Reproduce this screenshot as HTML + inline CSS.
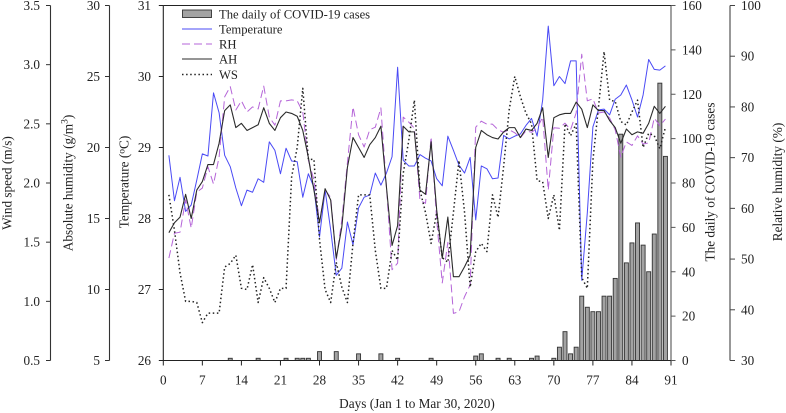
<!DOCTYPE html>
<html>
<head>
<meta charset="utf-8">
<style>
html,body{margin:0;padding:0;background:#fff;}
svg{display:block;}
text{font-family:"Liberation Serif",serif;fill:#222;}
</style>
</head>
<body>
<svg id="chart" xmlns="http://www.w3.org/2000/svg" width="786" height="413" viewBox="0 0 786 413"></svg>
<script>
const temperature = [28.89,28.25,28.58,28.1,28.19,28.54,28.91,28.88,29.77,29.49,28.89,28.73,28.43,28.18,28.4,28.37,28.56,28.51,29.08,28.96,28.63,28.99,28.81,28.8,28.3,28.63,28.44,27.74,28.4,27.84,27.2,27.3,27.95,27.63,28.15,28.3,28.33,28.64,28.47,28.64,28.87,30.13,28.82,28.74,28.74,28.9,28.85,28.81,28.56,28.46,29.16,28.96,28.75,28.64,28.86,27.98,28.74,28.7,28.56,28.57,29.17,29.12,29.16,29.19,29.31,29.41,29.16,29.67,30.71,29.87,30.0,29.9,30.22,30.22,27.13,28.08,29.29,29.53,29.54,29.46,29.68,29.74,29.88,29.67,29.43,29.74,30.24,30.1,30.09,30.15];
const relativeHumidity = [50.2,55.1,55.3,61.7,56.1,63.2,64,68.2,64.8,70.1,82,84,79.4,81.2,79,80,79.6,84.1,78,76.4,81.2,81.2,81.4,81.2,79,69.5,65.6,57.3,63.6,62.2,49.8,57.7,69,80,74.5,72.1,75.5,76,79.8,64.2,47.9,49.2,78,77,75.8,61.6,61,74.1,57.7,45.3,53.3,39.3,39.6,42.6,44.9,76,77.2,76.6,76.6,75.5,75,75.5,74.9,73.9,75.3,75,75.8,78,63.6,75.9,75.8,76.8,75.5,78.8,90.4,81.2,81.6,78.8,79,77.8,75.5,70.1,73.1,72.4,74.3,72.7,72.9,77.8,76.3,77.6];
const absoluteHumidity = [14,14.7,15.1,16.7,15,17,17.6,18.8,18.8,20.3,22.6,23,21.4,21.7,21.2,21.4,21.6,22.8,21.7,21.2,22.1,22.5,22.4,22.2,21.2,19.3,17,14.7,17.1,16.3,12.2,14.4,18.6,20.7,20,19.3,20.2,20.7,21.5,17.2,13.1,14.5,21.5,21.1,21.1,17,16.7,20.4,15.6,12.2,15.1,10.9,10.9,11.6,12.4,20,21.2,20.9,20.7,20.6,21.1,21.4,21.4,20.7,21.3,21.2,21.7,22.8,19.3,22.1,22.3,22.4,22.4,23.2,22.7,21.4,23,22.6,22.6,21.9,21.4,20.3,21.3,20.9,21.1,21,21.7,22.9,22.4,22.9];
const windSpeed = [1.9,1.6,1.24,1,1,0.99,0.82,0.9,0.9,0.9,1.29,1.32,1.39,1.11,1.1,1.31,0.99,1.2,1.11,0.99,1.11,1.11,2.05,2.3,2.8,2.2,2.2,1.52,1.1,0.99,1.33,1.12,0.99,1.49,1.9,1.9,1.9,1.43,1.11,1.11,1.43,1.35,2.08,2.36,2.7,1.94,1.75,1.49,1.75,1.37,1.33,1.75,2.19,1.75,1.12,1.42,1.49,1.42,1.9,1.71,2.14,2.62,2.9,2.73,2.59,2.5,2.02,2.01,1.7,1.9,1.6,2.5,2.4,2.5,1.2,1.11,2.19,2.64,3.11,2.7,2.69,2.52,2.49,2.6,2.7,2.3,2.42,2.4,2.29,2.47];
const caseDays = [12,17,22,24,25,26,28,31,35,39,42,48,56,57,60,62,66,67,70,71,72,73,74,75,76,77,78,79,80,81,82,83,84,85,86,87,88,89,90];
const caseCounts = [1,1,1,1,1,1,4,4,3,3,1,1,2,3,1,1,1,2,1,6,13,3,6,29,24,22,22,29,29,37,102,44,53,62,52,40,57,125,92];
const xTicks = [0,7,14,21,28,35,42,49,56,63,70,77,84,91];
const windTicks = ["0.5","1.0","1.5","2.0","2.5","3.0","3.5"];
const ahTicks = [5,10,15,20,25,30];
const tempTicks = [26,27,28,29,30,31];
const caseTicks = [0,20,40,60,80,100,120,140,160];
const rhTicks = [30,40,50,60,70,80,90,100];

const svg = document.getElementById('chart');
const NS = 'http://www.w3.org/2000/svg';
const TOP = 5.5, BOTTOM = 360.5, LEFT = 163.3, RIGHT = 671;
const AXC = '#333';
const TICK_FONT = 13.2, TITLE_FONT = 13.25, LEGEND_FONT = 12.6;

function xScale(d){ return LEFT + d * (RIGHT - LEFT) / 91; }
function yScale(v, lo, hi){ return BOTTOM - (v - lo) * (BOTTOM - TOP) / (hi - lo); }
function make(tag, attrs, parent){
  const el = document.createElementNS(NS, tag);
  for (const k in attrs) el.setAttribute(k, attrs[k]);
  (parent || svg).appendChild(el);
  return el;
}
function drawAxis(name, axisX, ticks, lo, hi, side, tickLen, labelX, color){
  const g = make('g', {});
  
  
  make('line', {x1:axisX, x2:axisX, y1:TOP, y2:BOTTOM, stroke:color, 'stroke-width':1.1}, g);
  ticks.forEach(function(t){
    const y = yScale(parseFloat(t), lo, hi);
    make('line', {x1:axisX, x2:axisX + side * tickLen, y1:y, y2:y, stroke:color, 'stroke-width':1}, g);
    const tx = make('text', {x:labelX, y:y + 4.5, 'font-size':TICK_FONT, 'text-anchor': side < 0 ? 'end' : 'start'}, g);
    tx.textContent = t;
  });
}
function drawTitle(name, cx, cy, txt){
  const t = make('text', {x:0, y:0, 'font-size':TITLE_FONT, 'text-anchor':'middle', transform:'translate(' + cx + ',' + cy + ') rotate(-90)'});
  
  
  t.textContent = txt;
  return t;
}
function drawSeries(name, values, lo, hi, stroke, width, dash){
  const pts = values.map(function(v, i){ return xScale(i + 1).toFixed(2) + ',' + yScale(v, lo, hi).toFixed(2); }).join(' ');
  const attrs = {points:pts, fill:'none', stroke:stroke, 'stroke-width':width, 'stroke-linejoin':'round'};
  if (dash) attrs['stroke-dasharray'] = dash;
  const p = make('polyline', attrs);
  
  
}

// Bars
const barGroup = make('g', {});


caseDays.forEach(function(d, i){
  const y = yScale(caseCounts[i], 0, 160);
  const b = make('rect', {x:xScale(d) - 2, y:y, width:4, height:BOTTOM - y, fill:'#a3a3a3', stroke:'#333', 'stroke-width':0.9}, barGroup);
  
  
});

// Series
drawSeries('temperature-line', temperature, 26, 31, '#4a4af5', 1);
drawSeries('relative-humidity-line', relativeHumidity, 30, 100, '#b565d8', 1, '8 4');
drawSeries('absolute-humidity-line', absoluteHumidity, 5, 30, '#2b2b2b', 1.1);
drawSeries('wind-speed-line', windSpeed, 0.5, 3.5, '#222', 1.5, '1.5 2.6');

// Frame
const topLine = make('line', {x1:LEFT, x2:RIGHT, y1:TOP, y2:TOP, stroke:'#222', 'stroke-width':1});



const xAxis = make('g', {});


make('line', {x1:LEFT, x2:RIGHT, y1:BOTTOM, y2:BOTTOM, stroke:'#222', 'stroke-width':1.1}, xAxis);
xTicks.forEach(function(t){
  const x = xScale(t);
  make('line', {x1:x, x2:x, y1:BOTTOM, y2:BOTTOM + 5, stroke:'#222', 'stroke-width':1}, xAxis);
  const tx = make('text', {x:x, y:384.5, 'font-size':TICK_FONT, 'text-anchor':'middle'}, xAxis);
  tx.textContent = t;
});

// Y axes
drawAxis('wind-speed-axis', 50.5, windTicks, 0.5, 3.5, -1, 4.5, 40, AXC);
drawAxis('absolute-humidity-axis', 109.5, ahTicks, 5, 30, -1, 4.5, 100, AXC);
drawAxis('temperature-axis', 163.3, tempTicks, 26, 31, -1, 4.5, 151, '#222');
drawAxis('daily-cases-axis', 671, caseTicks, 0, 160, 1, 4.5, 682, '#555');
drawAxis('relative-humidity-axis', 730, rhTicks, 30, 100, 1, 5, 741, '#444');

// Titles
drawTitle('wind-speed-axis-title', 11.5, 183, 'Wind speed (m/s)');
const ahTitle = drawTitle('absolute-humidity-axis-title', 72.5, 183, 'Absolute humidity (g/m');
const ahSup = make('tspan', {dy:-5, 'font-size':9.5}, ahTitle);
ahSup.textContent = '3';
const ahClose = make('tspan', {dy:5}, ahTitle);
ahClose.textContent = ')';
const tTitle = drawTitle('temperature-axis-title', 128.5, 182, 'Temperature (');
const tDeg = make('tspan', {dy:-4, 'font-size':9.5}, tTitle);
tDeg.textContent = 'o';
const tClose = make('tspan', {dy:4}, tTitle);
tClose.textContent = 'C)';
drawTitle('daily-cases-axis-title', 714.5, 182, 'The daily of COVID-19 cases');
drawTitle('relative-humidity-axis-title', 782, 182, 'Relative humidity (%)');

const xTitle = make('text', {x:417, y:408, 'font-size':TITLE_FONT, 'text-anchor':'middle'});


xTitle.textContent = 'Days (Jan 1 to Mar 30, 2020)';

// Legend
const legend = make('g', {});


make('rect', {x:182.5, y:10, width:29, height:7.5, fill:'#a3a3a3', stroke:'#333', 'stroke-width':0.9}, legend);
const legendLabels = ['The daily of COVID-19 cases','Temperature','RH','AH','WS'];
const legendY = [14, 29, 44, 59, 74.5];
legendLabels.forEach(function(label, i){
  const t = make('text', {x:219, y:legendY[i] + 4.3, 'font-size':LEGEND_FONT}, legend);
  t.textContent = label;
});
make('line', {x1:182, x2:212, y1:29, y2:29, stroke:'#4a4af5', 'stroke-width':1}, legend);
make('line', {x1:182, x2:212, y1:44, y2:44, stroke:'#b565d8', 'stroke-width':1, 'stroke-dasharray':'8 4'}, legend);
make('line', {x1:182, x2:212, y1:59, y2:59, stroke:'#2b2b2b', 'stroke-width':1.1}, legend);
make('line', {x1:182, x2:212, y1:74.5, y2:74.5, stroke:'#222', 'stroke-width':1.5, 'stroke-dasharray':'1.5 2.6'}, legend);
</script>
</body>
</html>
